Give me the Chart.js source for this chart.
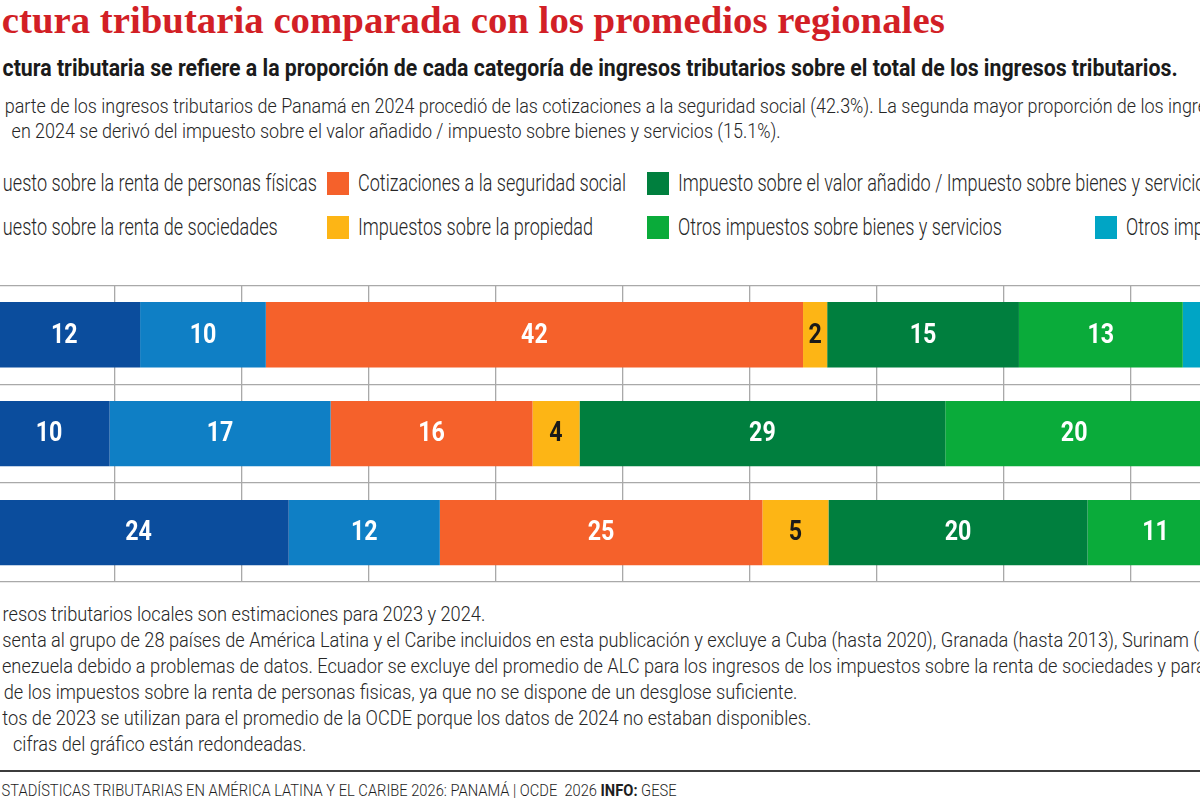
<!DOCTYPE html>
<html lang="es">
<head>
<meta charset="utf-8">
<title>Estructura tributaria comparada con los promedios regionales</title>
<script src="https://cdn.jsdelivr.net/npm/chart.js@4.4.1/dist/chart.umd.min.js"></script>
<style>
  html, body { margin: 0; padding: 0; background: #fff; }
  body { width: 1200px; height: 800px; overflow: hidden; position: relative; color: #1e1e1e;
         font-family: Roboto, "Liberation Sans", sans-serif; }
  .ln { position: absolute; white-space: nowrap; line-height: 1; transform-origin: 0 0; }
  .ln .cut { color: transparent; }
  .title { font-family: "Liberation Serif", serif; font-weight: 700; color: #d21f26; font-size: 37px; }
  .sub { font-weight: 700; font-size: 23px; color: #1b1b1b; }
  .txt { font-weight: 300; font-size: 21px; color: #262626; }
  .leg { font-weight: 300; font-size: 23px; color: #262626; }
  .src { font-weight: 300; font-size: 16px; }
  .src b { font-weight: 700; }
  .sq { position: absolute; width: 22px; height: 23px; }
  #rule { position: absolute; left: 0; top: 770px; width: 1200px; height: 2px; background: #3c3c3c; }
  #wrap { position: absolute; left: -20px; top: 280px; width: 1290px; height: 306px; }
</style>
</head>
<body>

<div class="ln title" data-g="title" data-x="2" data-end="945" data-base="33"><span class="cut">Estru</span><span class="vis">ctura tributaria comparada con los promedios regionales</span></div>

<div class="ln sub" data-g="sub" data-x="3" data-end="1178" data-base="76"><span class="cut">La estru</span><span class="vis">ctura tributaria se refiere a la proporción de cada categoría de ingresos tributarios sobre el total de los ingresos tributarios.</span></div>

<div class="ln txt" data-g="desc" data-x="5" data-base="114"><span class="cut">La mayor </span><span class="vis">parte de los ingresos tributarios de Panamá en 2024 procedió de las cotizaciones a la seguridad social (42.3%).</span> La segunda mayor proporción de los ingresos</div>
<div class="ln txt" data-g="desc" data-x="12" data-end="781" data-base="139"><span class="cut">tributarios </span><span class="vis">en 2024 se derivó del impuesto sobre el valor añadido / impuesto sobre bienes y servicios (15.1%).</span></div>

<div id="legend"></div>

<div id="wrap"><canvas id="chart"></canvas></div>

<div class="ln txt" data-g="note" data-x="3" data-base="622"><span class="cut">1. Los ing</span><span class="vis">resos tributarios locales son estimaciones para 2023 y 2024.</span></div>
<div class="ln txt" data-g="note" data-x="2" data-base="648"><span class="cut">2. Repre</span><span class="vis">senta al grupo de 28 países de América Latina y el Caribe incluidos en esta publicación y excluye a Cuba (hasta 2020), Granada (hasta 2013), Surinam (hasta 2019)</span></div>
<div class="ln txt" data-g="note" data-x="2" data-base="674"><span class="cut">y V</span><span class="vis">enezuela debido a problemas de datos. Ecuador se excluye del promedio de ALC para los ingresos de los impuestos sobre la renta de sociedades y para los ingresos</span></div>
<div class="ln txt" data-g="note" data-x="4" data-base="700"><span class="cut">ingresos </span><span class="vis">de los impuestos sobre la renta de personas fisicas, ya que no se dispone de un desglose suficiente.</span></div>
<div class="ln txt" data-g="note" data-x="2" data-end="811" data-base="726"><span class="cut">3. Los da</span><span class="vis">tos de 2023 se utilizan para el promedio de la OCDE porque los datos de 2024 no estaban disponibles.</span></div>
<div class="ln txt" data-g="note" data-x="13" data-base="752"><span class="cut">4. Las </span><span class="vis">cifras del gráfico están redondeadas.</span></div>

<div id="rule"></div>
<div class="ln src" data-g="src" data-x="2" data-end="677" data-base="796"><span class="cut"><b>FUENTE:</b> E</span><span class="vis">STADÍSTICAS TRIBUTARIAS EN AMÉRICA LATINA Y EL CARIBE 2026: PANAMÁ | OCDE&nbsp; 2026 <b>INFO:</b> GESE</span></div>

<script>
// rows, top to bottom
const categories = ['Panamá', 'ALC', 'OCDE'];

const seriesNames = [
  'Impuesto sobre la renta de personas físicas',
  'Impuesto sobre la renta de sociedades',
  'Cotizaciones a la seguridad social',
  'Impuestos sobre la propiedad',
  'Impuesto sobre el valor añadido / Impuesto sobre bienes y servicios',
  'Otros impuestos sobre bienes y servicios',
  'Otros impuestos'
];

// % of total tax revenue, one value per row
const personalIncome  = [12.0, 9.6, 23.7];
const corporateIncome = [9.9, 17.4, 11.9];
const socialSecurity  = [42.3, 15.9, 25.4];
const property        = [1.9, 3.7, 5.2];
const valueAdded      = [15.1, 28.8, 20.4];
const otherGoods      = [12.9, 20.3, 10.7];
const otherTaxes      = [5.9, 4.3, 2.7];

const xTicks = [0, 10, 20, 30, 40, 50, 60, 70, 80, 90, 100];

const seriesValues = [personalIncome, corporateIncome, socialSecurity, property, valueAdded, otherGoods, otherTaxes];
const seriesColors = ['#0b4d9d', '#0f7fc5', '#f5612b', '#fdb515', '#007f3e', '#0aab3a', '#00a5c5'];
const labelColors  = ['#fff', '#fff', '#fff', '#1a1a1a', '#fff', '#fff', '#fff'];

// legend: column by column, first column is cut by the left edge
const legendLayout = [
  { s: 0, row: 0, cut: 3, tx: 3 },
  { s: 1, row: 1, cut: 3, tx: 3 },
  { s: 2, row: 0, sq: 327, tx: 358, end: 626 },
  { s: 3, row: 1, sq: 327, tx: 358 },
  { s: 4, row: 0, sq: 647, tx: 678 },
  { s: 5, row: 1, sq: 647, tx: 678 },
  { s: 6, row: 1, sq: 1095, tx: 1126 }
];
const legendRowBase = [191, 235];
const legendRowSq = [172, 216];

const legendBox = document.getElementById('legend');
const cutSquares = [];
legendLayout.forEach(item => {
  const name = seriesNames[item.s];
  const sq = document.createElement('div');
  sq.className = 'sq';
  sq.style.background = seriesColors[item.s];
  sq.style.top = legendRowSq[item.row] + 'px';
  const ln = document.createElement('div');
  ln.className = 'ln leg';
  ln.dataset.g = 'leg';
  ln.dataset.x = item.tx;
  ln.dataset.base = legendRowBase[item.row];
  if (item.end) ln.dataset.end = item.end;
  const k = item.cut || 0;
  ln.innerHTML = '<span class="cut"></span><span class="vis"></span>';
  ln.querySelector('.cut').textContent = name.slice(0, k);
  ln.querySelector('.vis').textContent = name.slice(k);
  if (item.sq !== undefined) sq.style.left = item.sq + 'px';
  else cutSquares.push([sq, ln]);
  legendBox.appendChild(sq);
  legendBox.appendChild(ln);
});

// fit every text line: visible part starts at data-x, scaled horizontally per group
const lines = [...document.querySelectorAll('.ln')];
const groupScale = {};
lines.forEach(el => {
  const fs = parseFloat(getComputedStyle(el).fontSize);
  el.style.top = (+el.dataset.base - 0.84 * fs) + 'px';
});
lines.filter(el => el.dataset.end).forEach(el => {
  const w = el.querySelector('.vis').getBoundingClientRect().width;
  groupScale[el.dataset.g] = (el.dataset.end - el.dataset.x) / w;
});
lines.forEach(el => {
  const sx = groupScale[el.dataset.g] || 1;
  const cut = el.querySelector('.cut');
  const cw = cut ? cut.getBoundingClientRect().width : 0;
  el.style.left = (el.dataset.x - cw * sx) + 'px';
  el.style.transform = 'scaleX(' + sx + ')';
});
cutSquares.forEach(([sq, ln]) => { sq.style.left = (parseFloat(ln.style.left) - 31) + 'px'; });

const barLabels = {
  id: 'barLabels',
  afterDatasetsDraw(chart) {
    const ctx = chart.ctx;
    ctx.save();
    ctx.font = '700 27px Roboto, "Liberation Sans", sans-serif';
    ctx.textAlign = 'center';
    ctx.textBaseline = 'middle';
    chart.data.datasets.forEach((ds, i) => {
      chart.getDatasetMeta(i).data.forEach((bar, j) => {
        const cx = (bar.x + bar.base) / 2;
        ctx.fillStyle = labelColors[i];
        ctx.save();
        ctx.translate(cx, bar.y + 1);
        ctx.scale(0.86, 1);
        ctx.fillText(ds.data[j].toFixed(0), 0, 0);
        ctx.restore();
      });
    });
    ctx.restore();
  }
};

new Chart(document.getElementById('chart'), {
  type: 'bar',
  data: {
    labels: categories,
    datasets: seriesNames.map((name, i) => ({
      label: name,
      data: seriesValues[i],
      backgroundColor: seriesColors[i],
      borderWidth: 0,
      barPercentage: 0.66,
      categoryPercentage: 1
    }))
  },
  options: {
    indexAxis: 'y',
    responsive: true,
    maintainAspectRatio: false,
    animation: false,
    layout: { padding: { left: 7.7, right: 12.3, top: 5.3, bottom: 4 } },
    plugins: { legend: { display: false }, tooltip: { enabled: false } },
    scales: {
      x: {
        stacked: true,
        min: xTicks[0],
        max: xTicks[xTicks.length - 1],
        afterBuildTicks: axis => { axis.ticks = xTicks.map(v => ({ value: v })); },
        ticks: { display: false },
        grid: { color: '#a9a9a9', lineWidth: 1.3, drawTicks: false },
        border: { display: false }
      },
      y: {
        stacked: true,
        ticks: { display: false },
        grid: { color: '#a9a9a9', lineWidth: 1.3, drawTicks: false },
        border: { display: false }
      }
    }
  },
  plugins: [barLabels]
});
</script>
</body>
</html>
